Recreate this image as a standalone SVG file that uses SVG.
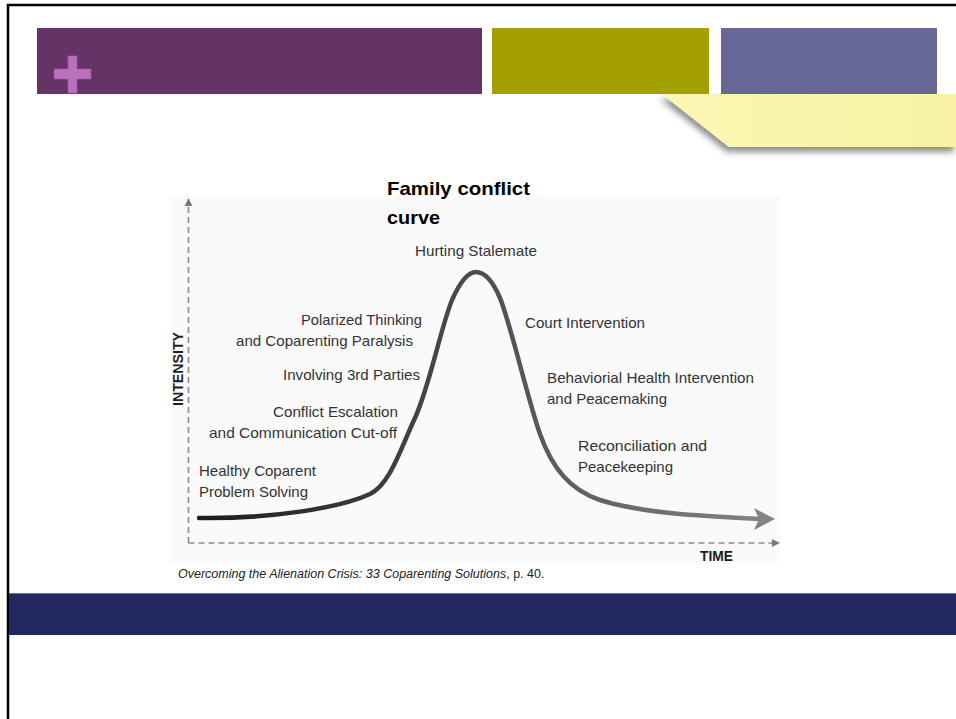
<svg xmlns="http://www.w3.org/2000/svg" width="956" height="719" viewBox="0 0 956 719">
  <defs>
    <style>
      .lbl { font-family: "Liberation Sans", Arial, sans-serif; font-size: 15px; fill: #333333; }
      .axis-title { font-family: "Liberation Sans", Arial, sans-serif; font-size: 15px; font-weight: bold; fill: #1e1e1e; }
      .title { font-family: "Liberation Sans", Arial, sans-serif; font-size: 19px; font-weight: bold; fill: #000000; }
      .cite { font-family: "Liberation Sans", Arial, sans-serif; font-size: 12.5px; fill: #222222; }
      .axis { stroke: #8a8a8a; stroke-width: 1.6; stroke-dasharray: 6 4; fill: none; }
    </style>
    <linearGradient id="curveGrad" gradientUnits="userSpaceOnUse" x1="199" y1="0" x2="775" y2="0">
      <stop offset="0" stop-color="#1c1c1c"/>
      <stop offset="0.45" stop-color="#4a4a4a"/>
      <stop offset="1" stop-color="#858585"/>
    </linearGradient>
    <linearGradient id="noteGrad" x1="0" y1="0" x2="1" y2="0">
      <stop offset="0" stop-color="#fbf7b4"/>
      <stop offset="1" stop-color="#f8f2a2"/>
    </linearGradient>
    <filter id="noteShadow" x="-10%" y="-20%" width="130%" height="160%">
      <feGaussianBlur in="SourceAlpha" stdDeviation="3"/>
      <feOffset dx="-2" dy="5" result="blur"/>
      <feComponentTransfer><feFuncA type="linear" slope="0.45"/></feComponentTransfer>
      <feMerge><feMergeNode/><feMergeNode in="SourceGraphic"/></feMerge>
    </filter>
    <marker id="axisHead" viewBox="0 0 10 10" refX="9" refY="5" markerWidth="5" markerHeight="5" orient="auto">
      <path d="M0,0 L10,5 L0,10 z" fill="#777777"/>
    </marker>
  </defs>

  <!-- page background and frame -->
  <rect x="0" y="0" width="956" height="719" fill="#ffffff"/>
  <path d="M8 719 V5 H956" fill="none" stroke="#000000" stroke-width="2.5"/>

  <!-- header bars -->
  <g id="header">
    <rect x="37" y="28" width="445" height="66" fill="#663366"/>
    <rect x="492" y="28" width="217" height="66" fill="#a3a000"/>
    <rect x="721" y="28" width="216" height="66" fill="#676898"/>
    <path d="M68 56 H77 V69 H91 V79 H77 V93 H68 V79 H54 V69 H68 Z" fill="#bb70bd" stroke="#9e55a0" stroke-width="0.8"/>
    <polygon points="662,94 956,94 956,147 729,147" fill="url(#noteGrad)" filter="url(#noteShadow)"/>
  </g>

  <!-- footer band -->
  <rect x="9" y="593" width="947" height="42" fill="#232960"/>
  <line x1="9" y1="593.5" x2="956" y2="593.5" stroke="#6c7194" stroke-width="1"/>

  <!-- chart panel -->
  <rect x="171" y="196" width="609" height="367" fill="#fafafa"/>

  <g id="title">
    <text class="title" x="387" y="195" textLength="143" lengthAdjust="spacingAndGlyphs">Family conflict</text>
    <text class="title" x="387" y="224" textLength="53" lengthAdjust="spacingAndGlyphs">curve</text>
  </g>

  <g id="axes">
    <line class="axis" x1="188.5" y1="543" x2="188.5" y2="199" marker-end="url(#axisHead)"/>
    <line class="axis" x1="188.5" y1="543" x2="779" y2="543" marker-end="url(#axisHead)"/>
    <text class="axis-title" transform="translate(183 406) rotate(-90)" textLength="74" lengthAdjust="spacingAndGlyphs">INTENSITY</text>
    <text class="axis-title" x="700" y="561" font-size="16" textLength="33" lengthAdjust="spacingAndGlyphs">TIME</text>
  </g>

  <!-- conflict intensity curve -->
  <g id="curve">
    <path d="M199,518 C270,519 340,508 370,494 C390,484 400,450 415,418 C430,385 440,330 452,300 C460,282 468,272 476,272 C486,272 494,284 500,298 C510,322 528,400 540,434 C552,468 570,490 600,500 C640,513 700,516 760,519" fill="none" stroke="url(#curveGrad)" stroke-width="4.5" stroke-linecap="round"/>
    <polygon points="775,519 754,508 759,519 754,530" fill="#838383"/>
  </g>

  <!-- stage labels -->
  <g id="labels">
    <text class="lbl" x="415" y="256" textLength="122" lengthAdjust="spacingAndGlyphs">Hurting Stalemate</text>
    <text class="lbl" x="301" y="325" textLength="121" lengthAdjust="spacingAndGlyphs">Polarized Thinking</text>
    <text class="lbl" x="236" y="346" textLength="177" lengthAdjust="spacingAndGlyphs">and Coparenting Paralysis</text>
    <text class="lbl" x="283" y="380" textLength="137" lengthAdjust="spacingAndGlyphs">Involving 3rd Parties</text>
    <text class="lbl" x="273" y="417" textLength="125" lengthAdjust="spacingAndGlyphs">Conflict Escalation</text>
    <text class="lbl" x="209" y="438" textLength="188" lengthAdjust="spacingAndGlyphs">and Communication Cut-off</text>
    <text class="lbl" x="199" y="476" textLength="117" lengthAdjust="spacingAndGlyphs">Healthy Coparent</text>
    <text class="lbl" x="199" y="497" textLength="109" lengthAdjust="spacingAndGlyphs">Problem Solving</text>
    <text class="lbl" x="525" y="328" textLength="120" lengthAdjust="spacingAndGlyphs">Court Intervention</text>
    <text class="lbl" x="547" y="383" textLength="207" lengthAdjust="spacingAndGlyphs">Behaviorial Health Intervention</text>
    <text class="lbl" x="547" y="404" textLength="120" lengthAdjust="spacingAndGlyphs">and Peacemaking</text>
    <text class="lbl" x="578" y="451" textLength="129" lengthAdjust="spacingAndGlyphs">Reconciliation and</text>
    <text class="lbl" x="578" y="472" textLength="95" lengthAdjust="spacingAndGlyphs">Peacekeeping</text>
  </g>

  <g id="citation">
    <text class="cite" x="178" y="578"><tspan font-style="italic">Overcoming the Alienation Crisis: 33 Coparenting Solutions</tspan>, p. 40.</text>
  </g>
</svg>
